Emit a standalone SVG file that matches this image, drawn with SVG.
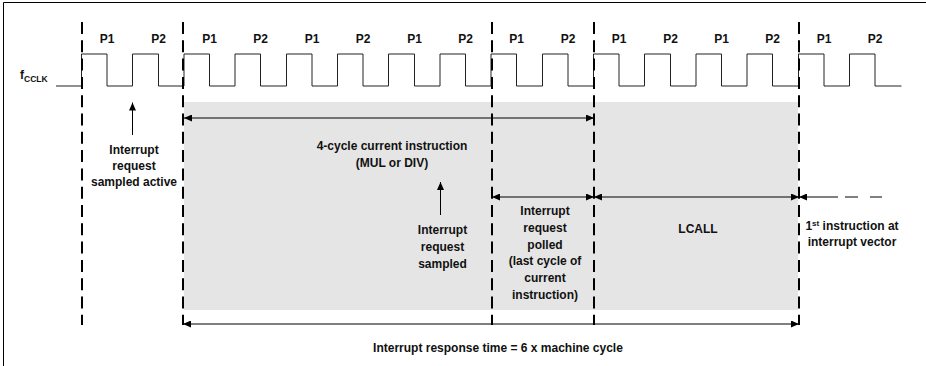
<svg xmlns="http://www.w3.org/2000/svg" width="926" height="366" viewBox="0 0 926 366">
<style>
text{font-family:"Liberation Sans",Arial,sans-serif;font-weight:bold;font-size:12px;fill:#111;text-anchor:middle}
.dash{stroke:#000;stroke-width:2;stroke-dasharray:12 6.3;fill:none}
.arr{stroke:#000;stroke-width:1;fill:none}
.ab{marker-start:url(#ah);marker-end:url(#ah)}
.ae{marker-end:url(#ah)}
.as{marker-start:url(#ah)}
</style>
<defs>
<marker id="ah" viewBox="0 0 8 7" refX="8" refY="3.5" markerWidth="8" markerHeight="7" markerUnits="userSpaceOnUse" orient="auto-start-reverse">
<path d="M0,0 L8,3.5 L0,7 z" fill="#000"/>
</marker>
</defs>
<rect width="926" height="366" fill="#fff"/>
<g id="frame" stroke="#000" stroke-width="1" fill="none">
<path d="M3.5,366 V2.5 H926"/>
</g>
<g id="shade"><rect x="184" y="102" width="614" height="208" fill="#e5e5e5"/></g>
<g id="clock">
<text x="20" y="79" style="text-anchor:start">f<tspan font-size="8.5" dy="2.5">CCLK</tspan></text>
<path d="M56,86 H81.5 V54 H107 V86 H132.5 V54 H158.5 V86 H184 V54 H209.5 V86 H235 V54 H260.5 V86 H286.5 V54 H312 V86 H337.5 V54 H363 V86 H388.5 V54 H414.5 V86 H440 V54 H465.5 V86 H491 V54 H516.5 V86 H542.5 V54 H568 V86 H593.5 V54 H619 V86 H644.5 V54 H670.5 V86 H696 V54 H721.5 V86 H747 V54 H772.5 V86 H798.5 V54 H824 V86 H849.5 V54 H875 V86 H901.5" stroke="#222" stroke-width="1" fill="none"/>
<g id="phases">
<text x="107" y="43">P1</text><text x="158.5" y="43">P2</text>
<text x="209.5" y="43">P1</text><text x="260.5" y="43">P2</text>
<text x="312" y="43">P1</text><text x="363" y="43">P2</text>
<text x="414.5" y="43">P1</text><text x="465.5" y="43">P2</text>
<text x="516.5" y="43">P1</text><text x="568" y="43">P2</text>
<text x="619" y="43">P1</text><text x="670.5" y="43">P2</text>
<text x="721.5" y="43">P1</text><text x="772.5" y="43">P2</text>
<text x="824" y="43">P1</text><text x="875" y="43">P2</text>
</g>
</g>
<g id="boundaries">
<line class="dash" x1="82" y1="22" x2="82" y2="325"/>
<line class="dash" x1="183" y1="22" x2="183" y2="325"/>
<line class="dash" x1="492" y1="22" x2="492" y2="325"/>
<line class="dash" x1="594" y1="22" x2="594" y2="325"/>
<line class="dash" x1="799" y1="22" x2="799" y2="325"/>
</g>
<g id="connectors">
<line class="arr ab" x1="184" y1="118" x2="594" y2="118"/>
<line class="arr ae" x1="132.5" y1="135" x2="132.5" y2="102.5"/>
<line class="arr ae" x1="440.5" y1="215" x2="440.5" y2="182"/>
<line class="arr ab" x1="492" y1="197" x2="594" y2="197"/>
<line class="arr ab" x1="594" y1="197" x2="799" y2="197"/>
<line class="arr as" x1="799" y1="197" x2="838" y2="197"/>
<line class="arr" x1="845" y1="197" x2="858" y2="197"/>
<line class="arr" x1="870" y1="197" x2="882" y2="197"/>
<line class="arr ab" x1="183" y1="324" x2="799" y2="324"/>
</g>
<g id="label-sampled-active">
<text x="134" y="154">Interrupt</text>
<text x="134" y="170">request</text>
<text x="134" y="186">sampled active</text>
</g>
<g id="label-current-instruction">
<text x="392" y="150">4-cycle current instruction</text>
<text x="392" y="167">(MUL or DIV)</text>
</g>
<g id="label-sampled">
<text x="442.5" y="234">Interrupt</text>
<text x="442.5" y="250.7">request</text>
<text x="442.5" y="267.5">sampled</text>
</g>
<g id="label-polled">
<text x="545" y="215">Interrupt</text>
<text x="545" y="231.8">request</text>
<text x="545" y="248.6">polled</text>
<text x="545" y="265.4">(last cycle of</text>
<text x="545" y="282.2">current</text>
<text x="545" y="299">instruction)</text>
</g>
<g id="label-lcall"><text x="698" y="233">LCALL</text></g>
<g id="label-first-instruction">
<text x="852" y="229.5">1<tspan font-size="8" dy="-4">st</tspan><tspan dy="4"> instruction at</tspan></text>
<text x="852" y="246">interrupt vector</text>
</g>
<g id="label-response-time"><text x="498" y="352">Interrupt response time = 6 x machine cycle</text></g>
</svg>
